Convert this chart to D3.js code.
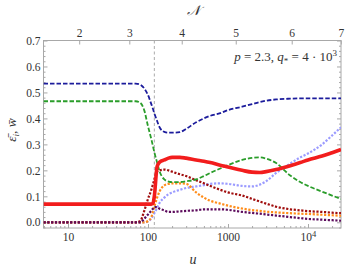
<!DOCTYPE html>
<html>
<head>
<meta charset="utf-8">
<script src="https://cdn.jsdelivr.net/npm/d3@7"></script>
<style>
  body { margin: 0; background: #fff; }
  svg text { font-family: "Liberation Serif", "DejaVu Serif", serif; fill: #333; }
  .axis path { display: none; }
  .axis line { stroke: #a8a8a8; }
</style>
</head>
<body>
<div id="chart"></div>
<script>
// shared u grid (bottom axis, log)
const uGrid = [4.94, 70, 80, 90, 100, 110, 115, 120, 130, 140, 160, 180, 200, 250, 300, 400, 500, 600, 800,
               1000, 1500, 2000, 2500, 3000, 4000, 6000, 8000, 10000, 15000, 20000, 25860];

const blueVals   = [0.534, 0.534, 0.530, 0.515, 0.490, 0.455, 0.438, 0.420, 0.390, 0.365, 0.348, 0.345, 0.345, 0.347, 0.360, 0.385, 0.400, 0.410, 0.420,
                    0.432, 0.445, 0.455, 0.463, 0.468, 0.473, 0.476, 0.477, 0.477, 0.477, 0.477, 0.477];
const greenVals  = [0.466, 0.466, 0.460, 0.430, 0.370, 0.320, 0.295, 0.270, 0.230, 0.195, 0.165, 0.157, 0.155, 0.155, 0.158, 0.165, 0.178, 0.190, 0.207,
                    0.220, 0.240, 0.248, 0.250, 0.245, 0.228, 0.180, 0.155, 0.140, 0.118, 0.103, 0.090];
const redVals    = [0.070, 0.070, 0.070, 0.070, 0.070, 0.070, 0.072, 0.100, 0.215, 0.232, 0.240, 0.247, 0.250, 0.250, 0.247, 0.240, 0.235, 0.230, 0.220,
                    0.213, 0.200, 0.193, 0.192, 0.195, 0.203, 0.218, 0.230, 0.240, 0.255, 0.268, 0.280];
const darkRedVals = [0, 0, 0.005, 0.045, 0.090, 0.125, 0.145, 0.165, 0.195, 0.200, 0.203, 0.200, 0.195, 0.185, 0.178, 0.162, 0.150, 0.140, 0.125,
                    0.115, 0.103, 0.090, 0.080, 0.072, 0.060, 0.050, 0.046, 0.043, 0.040, 0.037, 0.035];
const orangeVals = [0, 0, 0, 0, 0.005, 0.020, 0.040, 0.060, 0.095, 0.120, 0.142, 0.148, 0.150, 0.150, 0.148, 0.115, 0.095, 0.083, 0.072,
                    0.064, 0.053, 0.047, 0.044, 0.041, 0.038, 0.035, 0.033, 0.032, 0.029, 0.027, 0.025];
const lightBlueVals = [0, 0, 0, 0, 0.003, 0.015, 0.025, 0.035, 0.055, 0.075, 0.095, 0.108, 0.115, 0.125, 0.132, 0.138, 0.143, 0.148, 0.150,
                    0.148, 0.140, 0.138, 0.145, 0.158, 0.190, 0.226, 0.250, 0.265, 0.300, 0.334, 0.366];
const purpleVals = [0, 0, 0, 0.014, 0.030, 0.045, 0.052, 0.058, 0.058, 0.052, 0.046, 0.040, 0.040, 0.042, 0.044, 0.046, 0.050, 0.050, 0.050,
                    0.048, 0.040, 0.036, 0.033, 0.030, 0.026, 0.020, 0.016, 0.013, 0.010, 0.008, 0.006];

const yTicks = [0, 0.1, 0.2, 0.3, 0.4, 0.5, 0.6, 0.7];
const uTicks = [10, 100, 1000, 10000];
// top axis: N values and where they sit on the u axis
const nTicks = [2, 3, 4, 5, 6, 7];
const nTickU = [13.8, 58.4, 264, 1250, 6260, 25700];
const uMarker = 120;

const W = 349, H = 270;
const L = 43.5, R = 341, T = 40.5, B = 228;
const serif = '"Liberation Serif", "DejaVu Serif", serif';

const svg = d3.select("#chart").append("svg")
    .attr("width", W).attr("height", H);

const x = d3.scaleLog().domain([4.94, 25860]).range([L, R]);
const y = d3.scaleLinear().domain([-0.022, 0.7]).range([B, T]);

// minor ticks
const yMinor = d3.range(-0.02, 0.701, 0.02).filter(v => Math.abs(Math.round(v * 10) - v * 10) > 1e-6);
const uMinor = [];
[1, 10, 100, 1000, 10000].forEach(d => { for (let k = 2; k <= 9; k++) { const v = d * k; if (v > 4.94 && v < 25860) uMinor.push(v); } });

function styleAxis(sel) {
  sel.attr("font-family", serif).attr("font-size", 11.5);
  sel.selectAll("text").attr("fill", "#333");
}

svg.append("g").attr("class", "axis").attr("transform", `translate(${L},0)`)
  .call(d3.axisLeft(y).tickValues(yTicks).tickSize(-4).tickPadding(3).tickFormat(d3.format(".1f")))
  .call(styleAxis);
svg.append("g").attr("class", "axis").attr("transform", `translate(${L},0)`)
  .call(d3.axisLeft(y).tickValues(yMinor).tickSize(-2).tickFormat(""));
svg.append("g").attr("class", "axis").attr("transform", `translate(${R},0)`)
  .call(d3.axisRight(y).tickValues(yTicks).tickSize(-4).tickFormat(""));
svg.append("g").attr("class", "axis").attr("transform", `translate(${R},0)`)
  .call(d3.axisRight(y).tickValues(yMinor).tickSize(-2).tickFormat(""));

const bottom = svg.append("g").attr("class", "axis").attr("transform", `translate(0,${B})`)
  .call(d3.axisBottom(x).tickValues(uTicks).tickSize(-4).tickPadding(5).tickFormat(d => d === 10000 ? "" : String(d)))
  .call(styleAxis);
bottom.selectAll(".tick").filter(d => d === 10000).select("text")
  .call(t => { t.append("tspan").text("10"); t.append("tspan").attr("dy", "-0.45em").attr("font-size", 8.5).text("4"); });
svg.append("g").attr("class", "axis").attr("transform", `translate(0,${B})`)
  .call(d3.axisBottom(x).tickValues(uMinor).tickSize(-2).tickFormat(""));

svg.append("g").attr("class", "axis").attr("transform", `translate(0,${T})`)
  .call(d3.axisTop(x).tickValues(nTickU).tickSize(-4).tickPadding(4).tickFormat((d, i) => nTicks[i]))
  .call(styleAxis);

// frame
svg.append("rect").attr("x", L).attr("y", T).attr("width", R - L).attr("height", B - T)
  .attr("fill", "none").attr("stroke", "#a8a8a8").attr("stroke-width", 1);

// marker line
svg.append("line").attr("x1", x(uMarker)).attr("x2", x(uMarker)).attr("y1", T).attr("y2", B)
  .attr("stroke", "#aaa").attr("stroke-width", 1).attr("stroke-dasharray", "3,2.5");

const plot = svg.append("g");
plot.append("clipPath").attr("id", "clip").append("rect")
  .attr("x", L).attr("y", T).attr("width", R - L).attr("height", B - T);
const g = plot.append("g").attr("clip-path", "url(#clip)");

const line = d3.line().x(d => x(d[0])).y(d => y(d[1])).curve(d3.curveMonotoneX);

const series = [
  {vals: lightBlueVals, color: "#9b9bff", w: 2.2, dash: "2.2,1.6"},
  {vals: orangeVals,    color: "#ff8c19", w: 2.2, dash: "2.2,1.6"},
  {vals: darkRedVals,   color: "#a00e0e", w: 2.2, dash: "2.2,1.6"},
  {vals: purpleVals,    color: "#5c0b5c", w: 2.2, dash: "2.2,1.6"},
  {vals: greenVals,     color: "#2a9d2a", w: 1.8, dash: "4.5,2"},
  {vals: blueVals,      color: "#1c1c9c", w: 1.8, dash: "4.5,2"},
  {vals: redVals,       color: "#f21d1d", w: 3.6, dash: null}
];

series.forEach(s => {
  g.append("path")
    .datum(uGrid.map((u, i) => [u, s.vals[i]]))
    .attr("fill", "none")
    .attr("stroke", s.color)
    .attr("stroke-width", s.w)
    .attr("stroke-dasharray", s.dash)
    .attr("d", line);
});

// labels
svg.append("text").attr("x", 193).attr("y", 264).attr("text-anchor", "middle")
  .style("font-size", "14px").style("font-style", "italic").text("u");
svg.append("text").attr("x", 193).attr("y", 15).attr("text-anchor", "middle")
  .style("font-size", "14px").style("font-style", "italic").text("\u{1D4A9}");

const yl = svg.append("text").attr("transform", "translate(16,130) rotate(-90)")
  .attr("text-anchor", "middle").style("font-size", "13.5px");
yl.append("tspan").style("font-style", "italic").text("\u03B5\u0304");
yl.append("tspan").attr("dy", "3").style("font-size", "9px").style("font-style", "italic").text("i");
yl.append("tspan").attr("dy", "-3").text(", ");
yl.append("tspan").style("font-style", "italic").text("w\u0304");

const ann = svg.append("text").attr("x", 337).attr("y", 61).attr("text-anchor", "end").style("font-size", "13px");
ann.append("tspan").style("font-style", "italic").text("p");
ann.append("tspan").text(" = 2.3, ");
ann.append("tspan").style("font-style", "italic").text("q");
ann.append("tspan").attr("dy", "3").style("font-size", "9px").text("*");
ann.append("tspan").attr("dy", "-3").text(" = 4 \u00B7 10");
ann.append("tspan").attr("dy", "-5").style("font-size", "9px").text("3");
</script>
</body>
</html>
